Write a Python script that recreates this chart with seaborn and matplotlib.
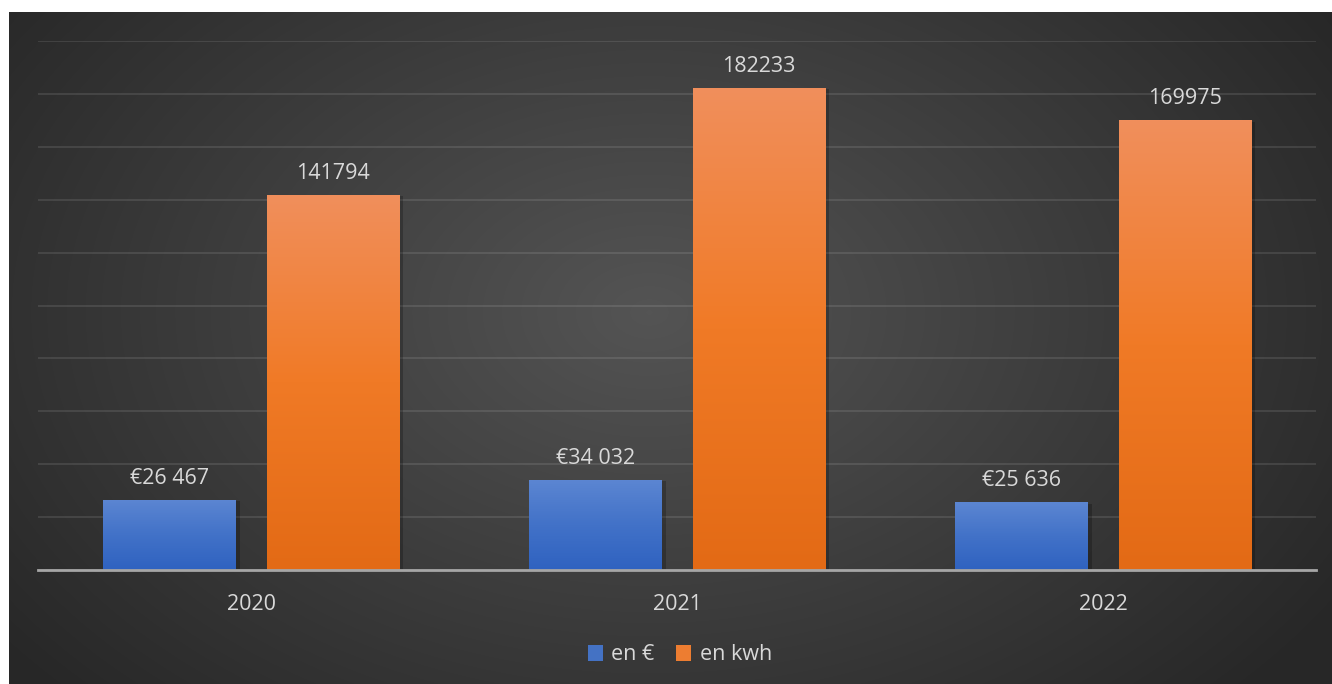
import numpy as np
import pandas as pd
import matplotlib.pyplot as plt
import seaborn as sns
from matplotlib import patheffects as pe
from matplotlib.colors import LinearSegmentedColormap
from matplotlib.patches import Patch

# data
years = ["2020", "2021", "2022"]
series = ["en €", "en kwh"]
euros = [26467, 34032, 25636]
kwh = [141794, 182233, 169975]

euro_labels = ["€" + f"{v:,}".replace(",", " ") for v in euros]
kwh_labels = [str(v) for v in kwh]

df = pd.DataFrame({
    "annee": years * 2,
    "serie": [series[0]] * 3 + [series[1]] * 3,
    "valeur": euros + kwh,
})

sns.set_theme(style="dark")
plt.rcParams['font.family'] = ['Open Sans', 'DejaVu Sans']

txt = "#d9d9d9"
blue = "#4472c4"
orange = "#ed7d31"
fs = 15.5

fig = plt.figure(figsize=(13.32, 6.84), dpi=100, facecolor="white")

# radial gradient background
bg = fig.add_axes([9 / 1332, 0, 1 - 9 / 1332, 672 / 684])
yy, xx = np.mgrid[0:672, 0:1323]
r = np.hypot((xx - 640) / 820, (yy - 300) / 560)
bg_cmap = LinearSegmentedColormap.from_list("bg", ["#272727", "#545454"])
bg.imshow(np.clip(1 - r, 0, 1), cmap=bg_cmap, vmin=0, vmax=1, aspect="auto")
bg.set_axis_off()

ax = fig.add_axes([38 / 1332, 114 / 684, 1278 / 1332, 529 / 684])
ax.patch.set_alpha(0)

sns.barplot(data=df, x="annee", y="valeur", hue="serie", palette=[blue, orange],
            width=0.768, gap=0.19, saturation=1, legend=False, ax=ax, zorder=3,
            linewidth=0, edgecolor="none")

grads = {
    0: LinearSegmentedColormap.from_list("b", ["#2f62c0", "#4272c8", "#5c86d2"]),
    1: LinearSegmentedColormap.from_list("o", ["#e36a15", "#f07a26", "#f18f5c"]),
}
g = np.linspace(0, 1, 256).reshape(-1, 1)
for i, cont in enumerate(ax.containers):
    for p in cont:
        p.set_path_effects([pe.SimplePatchShadow(offset=(3, -1), shadow_rgbFace="black", alpha=0.22),
                            pe.Normal()])
        x0, w, h = p.get_x(), p.get_width(), p.get_height()
        im = ax.imshow(g, extent=[x0, x0 + w, 0, h], origin="lower", aspect="auto",
                       cmap=grads[i], zorder=3.5)
        im.set_clip_path(p)
    labs = euro_labels if i == 0 else kwh_labels
    ax.bar_label(cont, labels=labs, padding=8, color=txt, fontsize=fs)

ax.set_xlim(-0.5, 2.5)
ax.set_ylim(0, 200000)
ax.set_yticks(range(0, 200001, 20000))
ax.set_yticklabels([])
ax.grid(axis="y", color="#ffffff", alpha=0.1, lw=1.5, zorder=0)
ax.grid(axis="x", visible=False)
ax.tick_params(axis="both", length=0)
ax.tick_params(axis="x", colors=txt, labelsize=fs, pad=17)
ax.set_xlabel("")
ax.set_ylabel("")
for s in ["top", "left", "right"]:
    ax.spines[s].set_visible(False)
ax.spines["bottom"].set_color("#a6a6a6")
ax.spines["bottom"].set_linewidth(2)
ax.spines["bottom"].set_zorder(5)

handles = [Patch(facecolor=blue, edgecolor="none"), Patch(facecolor=orange, edgecolor="none")]
fig.legend(handles, series, loc="center", bbox_to_anchor=(680 / 1332, 1 - 655 / 684),
           ncol=2, frameon=False, labelcolor=txt, fontsize=fs,
           handlelength=0.7, handleheight=0.7, handletextpad=0.4, columnspacing=1.0)

fig.savefig("out.png", dpi=100, facecolor="white")
